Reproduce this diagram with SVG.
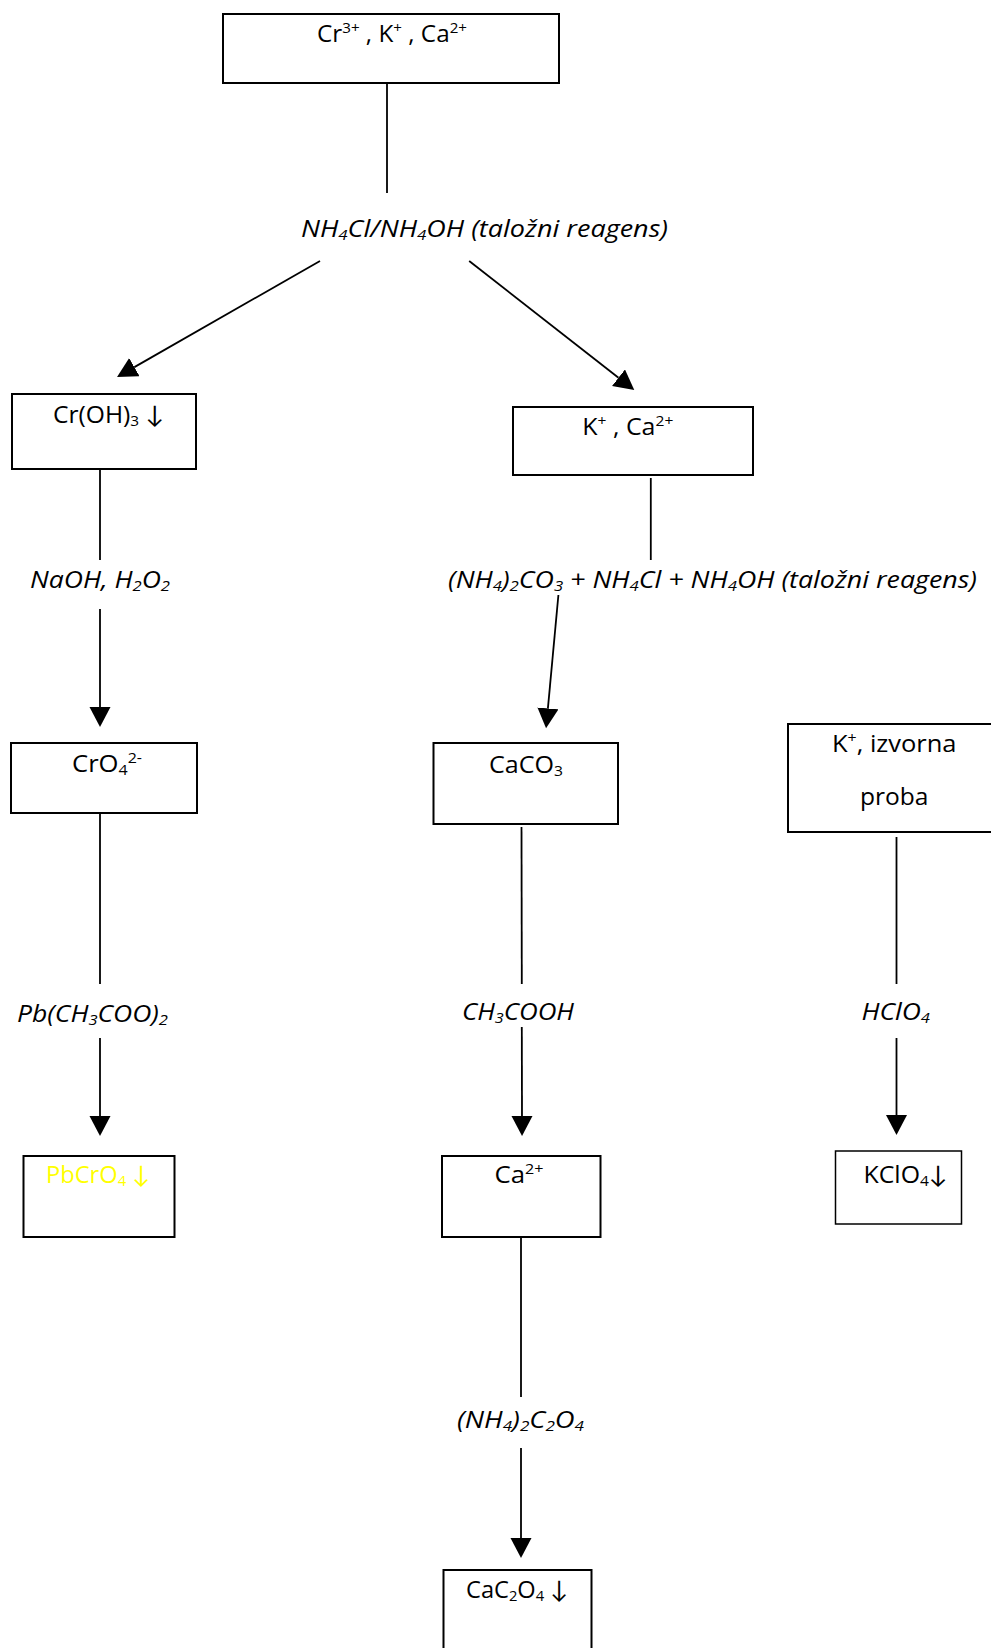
<svg xmlns="http://www.w3.org/2000/svg" width="991" height="1648" viewBox="0 0 991 1648">
<style>
text{font-family:"Open Sans",Lato,"DejaVu Sans",sans-serif;font-size:24px;fill:#000}
.it{font-style:italic}
.box{fill:#fff;stroke:#000;stroke-width:2}
.thin{stroke-width:1.5}
.ln{stroke:#000;stroke-width:1.8;fill:none}
.y{fill:#ffff00}
</style>
<defs>
<marker id="ah" markerUnits="userSpaceOnUse" markerWidth="22" markerHeight="22" refX="0" refY="10.5" orient="auto">
<path d="M0,0 L20,10.5 L0,21 Z" fill="#000"/>
</marker>
</defs>
<rect width="991" height="1648" fill="#fff"/>
<g id="connectors">
<line class="ln" x1="387" y1="83" x2="387" y2="193"/>
<line class="ln" x1="320" y1="261" x2="134.4" y2="367.1" marker-end="url(#ah)"/>
<line class="ln" x1="469.2" y1="261" x2="618.5" y2="377.7" marker-end="url(#ah)"/>
<line class="ln" x1="100" y1="469" x2="100" y2="560"/>
<line class="ln" x1="100" y1="609" x2="100" y2="707" marker-end="url(#ah)"/>
<line class="ln" x1="650.8" y1="478" x2="650.8" y2="560"/>
<line class="ln" x1="558.4" y1="595" x2="547.9" y2="708.4" marker-end="url(#ah)"/>
<line class="ln" x1="100" y1="813" x2="100" y2="984"/>
<line class="ln" x1="100" y1="1038" x2="100" y2="1116" marker-end="url(#ah)"/>
<line class="ln" x1="521.5" y1="827" x2="521.8" y2="984"/>
<line class="ln" x1="521.8" y1="1027" x2="522" y2="1116" marker-end="url(#ah)"/>
<line class="ln" x1="896.5" y1="837" x2="896.5" y2="984"/>
<line class="ln" x1="896.5" y1="1038" x2="896.5" y2="1115" marker-end="url(#ah)"/>
<line class="ln" x1="521" y1="1237" x2="521" y2="1397"/>
<line class="ln" x1="521" y1="1448" x2="521" y2="1538" marker-end="url(#ah)"/>
</g>
<g id="labels">
<text class="it" x="301" y="237" textLength="367" lengthAdjust="spacingAndGlyphs">NH<tspan font-size="15" baseline-shift="-3">4</tspan>Cl/NH<tspan font-size="15" baseline-shift="-3">4</tspan>OH (taložni reagens)</text>
<text class="it" x="30" y="588" textLength="140" lengthAdjust="spacingAndGlyphs">NaOH, H<tspan font-size="15" baseline-shift="-3">2</tspan>O<tspan font-size="15" baseline-shift="-3">2</tspan></text>
<text class="it" x="448" y="588" textLength="529" lengthAdjust="spacingAndGlyphs">(NH<tspan font-size="15" baseline-shift="-3">4</tspan>)<tspan font-size="15" baseline-shift="-3">2</tspan>CO<tspan font-size="15" baseline-shift="-3">3</tspan> + NH<tspan font-size="15" baseline-shift="-3">4</tspan>Cl + NH<tspan font-size="15" baseline-shift="-3">4</tspan>OH (taložni reagens)</text>
<text class="it" x="17" y="1022" textLength="151" lengthAdjust="spacingAndGlyphs">Pb(CH<tspan font-size="15" baseline-shift="-3">3</tspan>COO)<tspan font-size="15" baseline-shift="-3">2</tspan></text>
<text class="it" x="462" y="1020" textLength="112" lengthAdjust="spacingAndGlyphs">CH<tspan font-size="15" baseline-shift="-3">3</tspan>COOH</text>
<text class="it" x="861.5" y="1020" textLength="68.5" lengthAdjust="spacingAndGlyphs">HClO<tspan font-size="15" baseline-shift="-3">4</tspan></text>
<text class="it" x="457" y="1428" textLength="127" lengthAdjust="spacingAndGlyphs">(NH<tspan font-size="15" baseline-shift="-3">4</tspan>)<tspan font-size="15" baseline-shift="-3">2</tspan>C<tspan font-size="15" baseline-shift="-3">2</tspan>O<tspan font-size="15" baseline-shift="-3">4</tspan></text>
</g>
<g id="n-start">
<rect class="box" x="223" y="14" width="336" height="69"/>
<text x="317" y="42" textLength="150" lengthAdjust="spacingAndGlyphs">Cr<tspan font-size="15" baseline-shift="9">3+</tspan> , K<tspan font-size="15" baseline-shift="9">+</tspan> , Ca<tspan font-size="15" baseline-shift="9">2+</tspan></text>
</g>
<g id="n-croh3">
<rect class="box" x="12" y="394" width="184" height="75"/>
<text x="53" y="423" textLength="111" lengthAdjust="spacingAndGlyphs">Cr(OH)<tspan font-size="15" baseline-shift="-3">3</tspan> ↓</text>
</g>
<g id="n-kca">
<rect class="box" x="513" y="407" width="240" height="68"/>
<text x="582.3" y="435" textLength="91" lengthAdjust="spacingAndGlyphs">K<tspan font-size="15" baseline-shift="9">+</tspan> , Ca<tspan font-size="15" baseline-shift="9">2+</tspan></text>
</g>
<g id="n-cro4">
<rect class="box" x="11" y="743" width="186" height="70"/>
<text x="72" y="772" textLength="70" lengthAdjust="spacingAndGlyphs">CrO<tspan font-size="15" baseline-shift="-3">4</tspan><tspan font-size="15" baseline-shift="9">2-</tspan></text>
</g>
<g id="n-caco3">
<rect class="box" x="433.5" y="743" width="184.5" height="81"/>
<text x="489" y="773" textLength="74" lengthAdjust="spacingAndGlyphs">CaCO<tspan font-size="15" baseline-shift="-3">3</tspan></text>
</g>
<g id="n-kizv">
<rect class="box" x="788" y="724" width="220" height="108"/>
<text x="832" y="752" textLength="124.5" lengthAdjust="spacingAndGlyphs">K<tspan font-size="15" baseline-shift="9">+</tspan>, izvorna</text>
<text x="860" y="805" textLength="68.5" lengthAdjust="spacingAndGlyphs">proba</text>
</g>
<g id="n-pbcro4">
<rect class="box" x="23.5" y="1156" width="151" height="81"/>
<text class="y" x="46" y="1183" textLength="104" lengthAdjust="spacingAndGlyphs">PbCrO<tspan font-size="15" baseline-shift="-3">4</tspan> ↓</text>
</g>
<g id="n-ca">
<rect class="box" x="442" y="1156" width="158.5" height="81"/>
<text x="494.5" y="1183" textLength="49" lengthAdjust="spacingAndGlyphs">Ca<tspan font-size="15" baseline-shift="9">2+</tspan></text>
</g>
<g id="n-kclo4">
<rect class="box thin" x="835.5" y="1151" width="126" height="73"/>
<text x="863.5" y="1183" textLength="84" lengthAdjust="spacingAndGlyphs">KClO<tspan font-size="15" baseline-shift="-3">4</tspan>↓</text>
</g>
<g id="n-cac2o4">
<rect class="box" x="443.5" y="1570" width="148" height="95"/>
<text x="466" y="1598" textLength="102" lengthAdjust="spacingAndGlyphs">CaC<tspan font-size="15" baseline-shift="-3">2</tspan>O<tspan font-size="15" baseline-shift="-3">4</tspan> ↓</text>
</g>
</svg>
